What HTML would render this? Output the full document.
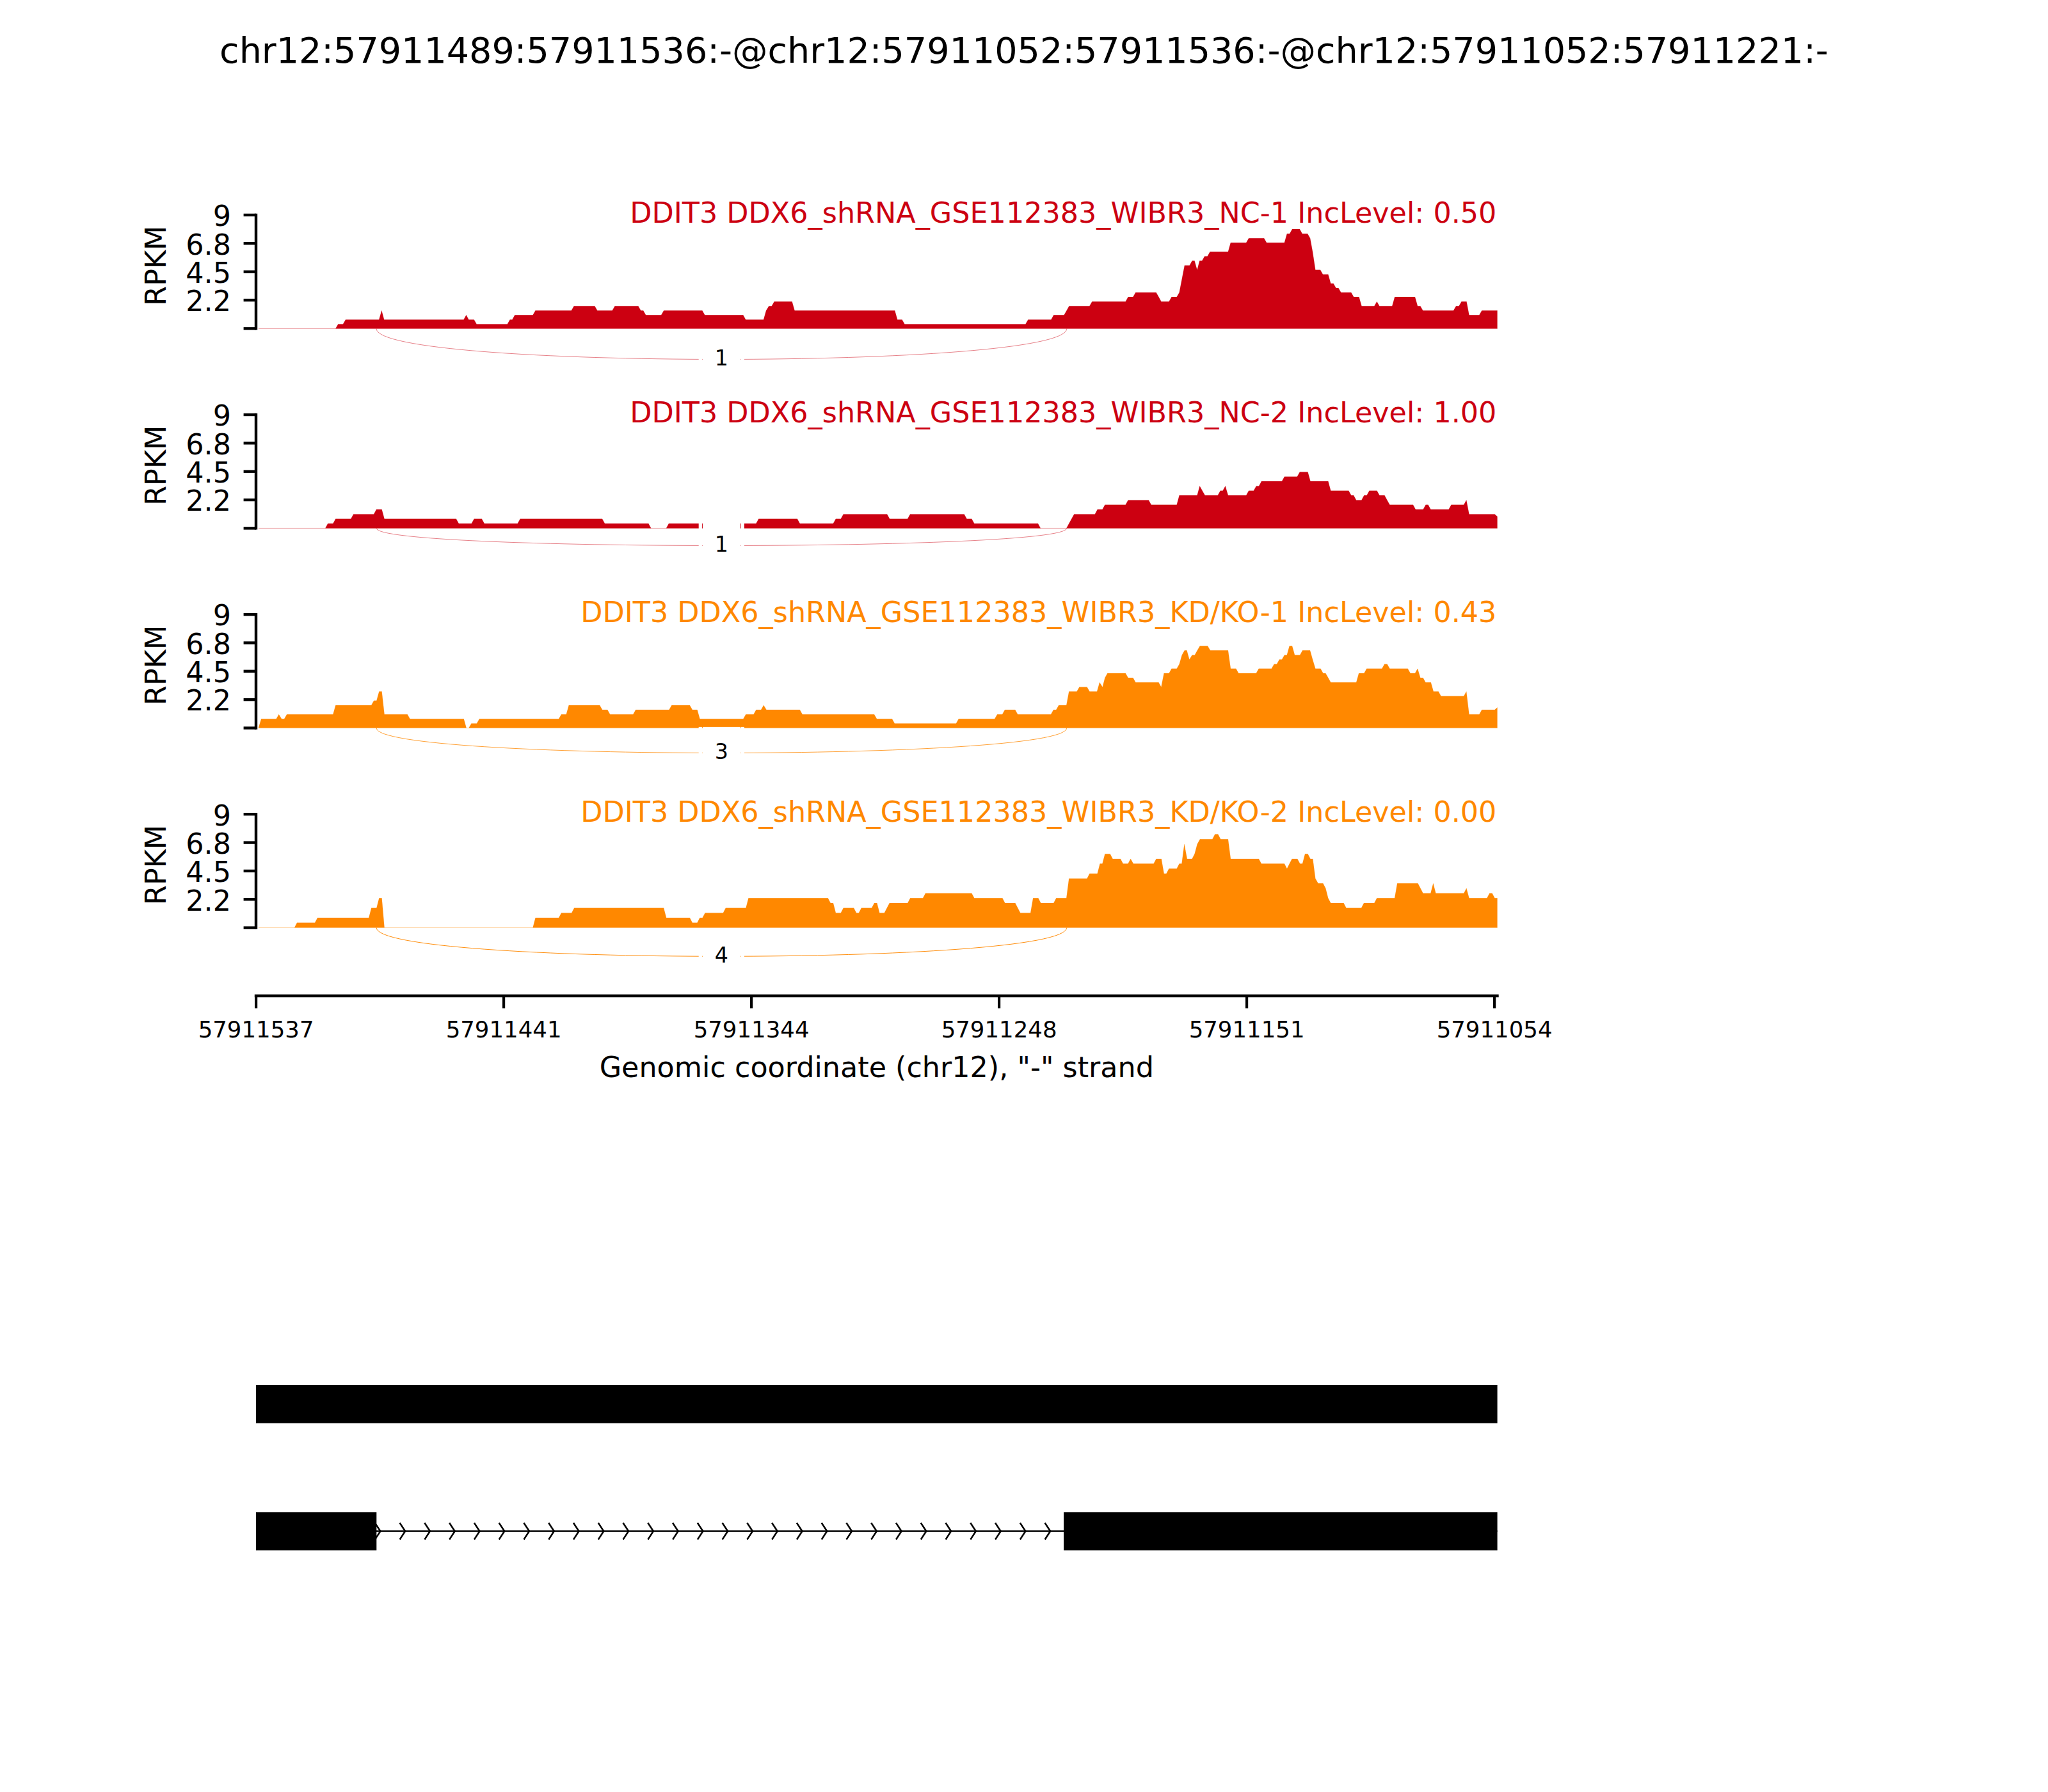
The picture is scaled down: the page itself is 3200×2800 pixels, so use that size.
<!DOCTYPE html>
<html lang="en"><head><meta charset="utf-8"><title>Sashimi plot chr12:57911489:57911536</title>
<style>html,body{margin:0;padding:0;background:#fff}body{width:3200px;height:2800px;overflow:hidden}svg{display:block}text{font-family:"DejaVu Sans", "Liberation Sans", sans-serif;fill:#000}</style></head><body>
<svg width="3200" height="2800" viewBox="0 0 3200 2800">
<rect width="3200" height="2800" fill="#fff"/>
<text x="1600" y="97.5" font-size="55.56" text-anchor="middle">chr12:57911489:57911536:-@chr12:57911052:57911536:-@chr12:57911052:57911221:-</text>
<g>
<path d="M403.9 513.55L403.9 513.55L524.28 513.55L528.3 506.48L535.98 506.48L540 499.42L592.28 499.42L596.3 485.29L600.2 499.42L724.48 499.42L728.5 492.35L732.4 499.42L740.68 499.42L744.7 506.48L792.78 506.48L796.8 499.42L800.38 499.42L804.4 492.35L832.58 492.35L836.6 485.29L892.78 485.29L896.8 478.22L929.28 478.22L933.3 485.29L956.68 485.29L960.7 478.22L997.28 478.22L1001.3 485.29L1005.08 485.29L1009.1 492.35L1033.18 492.35L1037.2 485.29L1097.28 485.29L1101.3 492.35L1161.18 492.35L1165.2 499.42L1193.08 499.42L1197.1 485.29L1201.4 478.22L1205.78 478.22L1209.8 471.15L1237.58 471.15L1241.6 485.29L1398.18 485.29L1402.2 499.42L1409.48 499.42L1413.5 506.48L1602.38 506.48L1606.4 499.42L1642.38 499.42L1646.4 492.35L1662.58 492.35L1666.6 485.29L1670.5 478.22L1702.38 478.22L1706.4 471.15L1758.68 471.15L1762.7 464.09L1770.38 464.09L1774.4 457.02L1806.48 457.02L1810.5 464.09L1814.4 471.15L1826.58 471.15L1830.6 464.09L1838.68 464.09L1842.7 457.02L1846.8 435.82L1850.9 414.63L1858.68 414.63L1862.7 407.56L1866.48 407.56L1870.5 421.69L1874.4 407.56L1878.18 407.56L1882.2 400.49L1886.58 400.49L1890.6 393.43L1918.88 393.43L1922.9 379.3L1947.18 379.3L1951.2 372.23L1975.08 372.23L1979.1 379.3L2006.88 379.3L2010.9 365.16L2015.08 365.16L2019.1 358.1L2030.78 358.1L2034.8 365.16L2043.08 365.16L2047.1 372.23L2051 393.43L2055.3 421.69L2062.98 421.69L2067 428.76L2075.28 428.76L2079.3 442.89L2083.48 442.89L2087.5 449.96L2091.28 449.96L2095.3 457.02L2111.18 457.02L2115.2 464.09L2123.48 464.09L2127.5 478.22L2147.38 478.22L2151.4 471.15L2155.3 478.22L2175.28 478.22L2179.3 464.09L2210.98 464.09L2215 478.22L2219.28 478.22L2223.3 485.29L2271.08 485.29L2275.1 478.22L2279.58 478.22L2283.6 471.15L2291.48 471.15L2295.5 492.35L2311.38 492.35L2315.4 485.29L2335.48 485.29L2339.5 485.29L2339.5 513.55Z" fill="#CC0011" stroke="#CC0011" stroke-width="0.2" stroke-linejoin="miter"/>
<path d="M588.2 513.55 C588.2 577.45 1666.7 577.45 1666.7 513.55" fill="none" stroke="#CC0011" stroke-width="0.5"/>
<rect x="1091.7" y="520.87" width="5.3" height="75.8" fill="#fff"/>
<rect x="1097.9" y="520.87" width="59" height="75.8" fill="#fff"/>
<rect x="1157.8" y="520.87" width="5.1" height="75.8" fill="#fff"/>
<text x="1127.3" y="571.47" font-size="33.33" text-anchor="middle">1</text>
<path d="M400 333.75 V515.55" stroke="#000" stroke-width="4.4" fill="none"/>
<path d="M380.6 335.95 H400" stroke="#000" stroke-width="4.4" fill="none"/>
<text x="361" y="353.25" font-size="44.44" text-anchor="end">9</text>
<path d="M380.6 380.3 H400" stroke="#000" stroke-width="4.4" fill="none"/>
<text x="361" y="397.6" font-size="44.44" text-anchor="end">6.8</text>
<path d="M380.6 424.65 H400" stroke="#000" stroke-width="4.4" fill="none"/>
<text x="361" y="441.95" font-size="44.44" text-anchor="end">4.5</text>
<path d="M380.6 469 H400" stroke="#000" stroke-width="4.4" fill="none"/>
<text x="361" y="486.3" font-size="44.44" text-anchor="end">2.2</text>
<path d="M380.6 513.35 H400" stroke="#000" stroke-width="4.4" fill="none"/>
<text transform="translate(258.6 415.15) rotate(-90)" font-size="44.44" text-anchor="middle">RPKM</text>
<text x="2338.4" y="347.95" font-size="44.46" text-anchor="end" style="fill:#CC0011">DDIT3 DDX6_shRNA_GSE112383_WIBR3_NC-1 IncLevel: 0.50</text>
</g>
<g>
<path d="M403.9 825.4L403.9 825.4L508.28 825.4L512.3 818.07L520.38 818.07L524.4 810.74L548.28 810.74L552.3 803.41L584.08 803.41L588.1 796.08L596.58 796.08L600.6 810.74L712.78 810.74L716.8 818.07L736.78 818.07L740.8 810.74L752.78 810.74L756.8 818.07L808.78 818.07L812.8 810.74L940.98 810.74L945 818.07L1013.28 818.07L1017.3 825.4L1040.98 825.4L1045 818.07L1181.38 818.07L1185.4 810.74L1245.78 810.74L1249.8 818.07L1301.88 818.07L1305.9 810.74L1313.78 810.74L1317.8 803.41L1386.08 803.41L1390.1 810.74L1418.08 810.74L1422.1 803.41L1506.58 803.41L1510.6 810.74L1518.28 810.74L1522.3 818.07L1621.88 818.07L1625.9 825.4L1666.28 825.4L1670.3 818.07L1674.3 810.74L1678.3 803.41L1710.78 803.41L1714.8 796.08L1722.48 796.08L1726.5 788.75L1758.68 788.75L1762.7 781.42L1794.78 781.42L1798.8 788.75L1838.68 788.75L1842.7 774.09L1870.58 774.09L1874.6 759.43L1878.6 766.76L1882.8 774.09L1902.78 774.09L1906.8 766.76L1910.58 766.76L1914.6 759.43L1918.9 774.09L1947.18 774.09L1951.2 766.76L1958.88 766.76L1962.9 759.43L1967.08 759.43L1971.1 752.1L2002.98 752.1L2007 744.77L2026.88 744.77L2030.9 737.44L2043.48 737.44L2047.5 752.1L2075.28 752.1L2079.3 766.76L2107.28 766.76L2111.3 774.09L2115.08 774.09L2119.1 781.42L2127.38 781.42L2131.4 774.09L2135.58 774.09L2139.6 766.76L2151.48 766.76L2155.5 774.09L2163.38 774.09L2167.4 781.42L2171.5 788.75L2207.88 788.75L2211.9 796.08L2223.68 796.08L2227.7 788.75L2231.48 788.75L2235.5 796.08L2263.58 796.08L2267.6 788.75L2287.18 788.75L2291.2 781.42L2295.5 803.41L2335.48 803.41L2339.5 807.07L2339.5 825.4Z" fill="#CC0011" stroke="#CC0011" stroke-width="0.2" stroke-linejoin="miter"/>
<path d="M588.2 825.4 C588.2 861.5 1666.7 861.5 1666.7 825.4" fill="none" stroke="#CC0011" stroke-width="0.5"/>
<rect x="1091.7" y="811.88" width="5.3" height="75.8" fill="#fff"/>
<rect x="1097.9" y="811.88" width="59" height="75.8" fill="#fff"/>
<rect x="1157.8" y="811.88" width="5.1" height="75.8" fill="#fff"/>
<text x="1127.3" y="862.48" font-size="33.33" text-anchor="middle">1</text>
<path d="M400 645.8 V827.6" stroke="#000" stroke-width="4.4" fill="none"/>
<path d="M380.6 648 H400" stroke="#000" stroke-width="4.4" fill="none"/>
<text x="361" y="665.3" font-size="44.44" text-anchor="end">9</text>
<path d="M380.6 692.35 H400" stroke="#000" stroke-width="4.4" fill="none"/>
<text x="361" y="709.65" font-size="44.44" text-anchor="end">6.8</text>
<path d="M380.6 736.7 H400" stroke="#000" stroke-width="4.4" fill="none"/>
<text x="361" y="754" font-size="44.44" text-anchor="end">4.5</text>
<path d="M380.6 781.05 H400" stroke="#000" stroke-width="4.4" fill="none"/>
<text x="361" y="798.35" font-size="44.44" text-anchor="end">2.2</text>
<path d="M380.6 825.4 H400" stroke="#000" stroke-width="4.4" fill="none"/>
<text transform="translate(258.6 727.2) rotate(-90)" font-size="44.44" text-anchor="middle">RPKM</text>
<text x="2338.4" y="660" font-size="44.46" text-anchor="end" style="fill:#CC0011">DDIT3 DDX6_shRNA_GSE112383_WIBR3_NC-2 IncLevel: 1.00</text>
</g>
<g>
<path d="M403.9 1137.55L403.9 1137.55L403.9 1137.55L408.2 1123.29L431.68 1123.29L435.7 1116.16L440 1123.29L444.18 1123.29L448.2 1116.16L520.38 1116.16L524.4 1101.9L580.18 1101.9L584.2 1094.77L588.38 1094.77L592.4 1080.51L596.58 1080.51L600.6 1116.16L636.58 1116.16L640.6 1123.29L724.68 1123.29L728.7 1137.55L732.48 1137.55L736.5 1130.42L744.98 1130.42L749 1123.29L873.08 1123.29L877.1 1116.16L884.78 1116.16L888.8 1101.9L937.08 1101.9L941.1 1109.03L949.18 1109.03L953.2 1116.16L989.28 1116.16L993.3 1109.03L1045.48 1109.03L1049.5 1101.9L1077.78 1101.9L1081.8 1109.03L1089.48 1109.03L1093.5 1123.29L1161.38 1123.29L1165.4 1116.16L1177.48 1116.16L1181.5 1109.03L1189.18 1109.03L1193.2 1101.9L1197.5 1109.03L1249.73 1109.03L1253.75 1116.16L1365.98 1116.16L1370 1123.29L1393.88 1123.29L1397.9 1130.42L1493.88 1130.42L1497.9 1123.29L1554.18 1123.29L1558.2 1116.16L1566.08 1116.16L1570.1 1109.03L1586.18 1109.03L1590.2 1116.16L1642.08 1116.16L1646.1 1109.03L1650.28 1109.03L1654.3 1101.9L1666.28 1101.9L1670.3 1080.51L1682.48 1080.51L1686.5 1073.38L1698.48 1073.38L1702.5 1080.51L1714.08 1080.51L1718.1 1066.25L1722.7 1073.38L1726.5 1059.12L1730.4 1051.99L1758.68 1051.99L1762.7 1059.12L1770.38 1059.12L1774.4 1066.25L1810.38 1066.25L1814.4 1073.38L1818.7 1051.99L1826.58 1051.99L1830.6 1044.86L1838.68 1044.86L1842.7 1037.73L1846.8 1023.47L1850.9 1016.34L1854.38 1016.34L1858.4 1030.6L1862.7 1023.47L1866.78 1023.47L1870.8 1016.34L1874.9 1009.21L1886.98 1009.21L1891 1016.34L1918.88 1016.34L1922.9 1044.86L1931.28 1044.86L1935.3 1051.99L1962.78 1051.99L1966.8 1044.86L1986.78 1044.86L1990.8 1037.73L1994.98 1037.73L1999 1030.6L2002.98 1030.6L2007 1023.47L2010.78 1023.47L2014.8 1009.21L2018.98 1009.21L2023 1023.47L2031.18 1023.47L2035.2 1016.34L2046.98 1016.34L2051 1030.6L2055.3 1044.86L2063.38 1044.86L2067.4 1051.99L2071.28 1051.99L2075.3 1059.12L2079.3 1066.25L2119.18 1066.25L2123.2 1051.99L2131.38 1051.99L2135.4 1044.86L2159.28 1044.86L2163.3 1037.73L2167.48 1037.73L2171.5 1044.86L2199.68 1044.86L2203.7 1051.99L2210.98 1051.99L2215 1044.86L2219.3 1059.12L2223.48 1059.12L2227.5 1066.25L2235.78 1066.25L2239.8 1080.51L2247.58 1080.51L2251.6 1087.64L2287.18 1087.64L2291.2 1080.51L2295.5 1116.16L2311.38 1116.16L2315.4 1109.03L2331.48 1109.03L2335.5 1109.03L2339.5 1105.46L2339.5 1137.55Z" fill="#FF8800" stroke="#FF8800" stroke-width="0.2" stroke-linejoin="miter"/>
<path d="M588.2 1137.55 C588.2 1189.45 1666.7 1189.45 1666.7 1137.55" fill="none" stroke="#FF8800" stroke-width="0.8"/>
<rect x="1091.7" y="1135.87" width="5.3" height="75.8" fill="#fff"/>
<rect x="1097.9" y="1135.87" width="59" height="75.8" fill="#fff"/>
<rect x="1157.8" y="1135.87" width="5.1" height="75.8" fill="#fff"/>
<text x="1127.3" y="1186.47" font-size="33.33" text-anchor="middle">3</text>
<path d="M400 957.9 V1139.7" stroke="#000" stroke-width="4.4" fill="none"/>
<path d="M380.6 960.1 H400" stroke="#000" stroke-width="4.4" fill="none"/>
<text x="361" y="977.4" font-size="44.44" text-anchor="end">9</text>
<path d="M380.6 1004.45 H400" stroke="#000" stroke-width="4.4" fill="none"/>
<text x="361" y="1021.75" font-size="44.44" text-anchor="end">6.8</text>
<path d="M380.6 1048.8 H400" stroke="#000" stroke-width="4.4" fill="none"/>
<text x="361" y="1066.1" font-size="44.44" text-anchor="end">4.5</text>
<path d="M380.6 1093.15 H400" stroke="#000" stroke-width="4.4" fill="none"/>
<text x="361" y="1110.45" font-size="44.44" text-anchor="end">2.2</text>
<path d="M380.6 1137.5 H400" stroke="#000" stroke-width="4.4" fill="none"/>
<text transform="translate(258.6 1039.3) rotate(-90)" font-size="44.44" text-anchor="middle">RPKM</text>
<text x="2338.4" y="972.1" font-size="44.46" text-anchor="end" style="fill:#FF8800">DDIT3 DDX6_shRNA_GSE112383_WIBR3_KD/KO-1 IncLevel: 0.43</text>
</g>
<g>
<path d="M403.9 1449.45L403.9 1449.45L460.08 1449.45L464.1 1441.77L492.08 1441.77L496.1 1434.09L576.28 1434.09L580.3 1418.73L588.38 1418.73L592.4 1403.37L596.58 1403.37L600.6 1449.45L832.58 1449.45L836.6 1434.09L873.08 1434.09L877.1 1426.41L893.18 1426.41L897.2 1418.73L1037.08 1418.73L1041.1 1434.09L1077.78 1434.09L1081.8 1441.77L1089.48 1441.77L1093.5 1434.09L1097.68 1434.09L1101.7 1426.41L1129.88 1426.41L1133.9 1418.73L1165.48 1418.73L1169.5 1403.37L1293.68 1403.37L1297.7 1411.05L1301.88 1411.05L1305.9 1426.41L1313.78 1426.41L1317.8 1418.73L1334.08 1418.73L1338.1 1426.41L1341.88 1426.41L1345.9 1418.73L1362.08 1418.73L1366.1 1411.05L1370.28 1411.05L1374.3 1426.41L1381.78 1426.41L1385.8 1418.73L1389.9 1411.05L1418.28 1411.05L1422.3 1403.37L1442.08 1403.37L1446.1 1395.69L1518.28 1395.69L1522.3 1403.37L1566.28 1403.37L1570.3 1411.05L1586.28 1411.05L1590.3 1418.73L1594.3 1426.41L1610.18 1426.41L1614.2 1403.37L1622.28 1403.37L1626.3 1411.05L1646.33 1411.05L1650.35 1403.37L1666.28 1403.37L1670.3 1372.65L1698.48 1372.65L1702.5 1364.97L1714.68 1364.97L1718.7 1349.61L1722.48 1349.61L1726.5 1334.25L1734.58 1334.25L1738.6 1341.93L1750.78 1341.93L1754.8 1349.61L1762.58 1349.61L1766.6 1341.93L1770.9 1349.61L1802.58 1349.61L1806.6 1341.93L1814.68 1341.93L1818.7 1364.97L1822.48 1364.97L1826.5 1357.29L1838.68 1357.29L1842.7 1349.61L1846.48 1349.61L1850.5 1318.89L1854.8 1341.93L1862.58 1341.93L1866.6 1334.25L1870.7 1318.89L1875 1311.21L1894.38 1311.21L1898.4 1303.53L1903.18 1303.53L1907.2 1311.21L1918.88 1311.21L1922.9 1341.93L1966.88 1341.93L1970.9 1349.61L2006.88 1349.61L2010.9 1357.29L2014.8 1349.61L2018.75 1341.93L2027.23 1341.93L2031.25 1349.61L2035.08 1349.61L2039.1 1334.25L2043.48 1334.25L2047.5 1341.93L2051.28 1341.93L2055.3 1372.65L2059.6 1380.33L2067.28 1380.33L2071.3 1388.01L2075.2 1403.37L2079.3 1411.05L2099.48 1411.05L2103.5 1418.73L2127.08 1418.73L2131.1 1411.05L2147.38 1411.05L2151.4 1403.37L2179.18 1403.37L2183.2 1380.33L2215.48 1380.33L2219.5 1388.01L2223.5 1395.69L2235.38 1395.69L2239.4 1380.33L2243.4 1395.69L2287.28 1395.69L2291.3 1388.01L2295.5 1403.37L2323.38 1403.37L2327.4 1395.69L2331.48 1395.69L2335.5 1403.37L2339.5 1403.37L2339.5 1449.45Z" fill="#FF8800" stroke="#FF8800" stroke-width="0.2" stroke-linejoin="miter"/>
<path d="M588.2 1449.45 C588.2 1509.25 1666.7 1509.25 1666.7 1449.45" fill="none" stroke="#FF8800" stroke-width="0.95"/>
<rect x="1091.7" y="1453.7" width="5.3" height="75.8" fill="#fff"/>
<rect x="1097.9" y="1453.7" width="59" height="75.8" fill="#fff"/>
<rect x="1157.8" y="1453.7" width="5.1" height="75.8" fill="#fff"/>
<text x="1127.3" y="1504.3" font-size="33.33" text-anchor="middle">4</text>
<path d="M400 1270 V1451.8" stroke="#000" stroke-width="4.4" fill="none"/>
<path d="M380.6 1272.2 H400" stroke="#000" stroke-width="4.4" fill="none"/>
<text x="361" y="1289.5" font-size="44.44" text-anchor="end">9</text>
<path d="M380.6 1316.55 H400" stroke="#000" stroke-width="4.4" fill="none"/>
<text x="361" y="1333.85" font-size="44.44" text-anchor="end">6.8</text>
<path d="M380.6 1360.9 H400" stroke="#000" stroke-width="4.4" fill="none"/>
<text x="361" y="1378.2" font-size="44.44" text-anchor="end">4.5</text>
<path d="M380.6 1405.25 H400" stroke="#000" stroke-width="4.4" fill="none"/>
<text x="361" y="1422.55" font-size="44.44" text-anchor="end">2.2</text>
<path d="M380.6 1449.6 H400" stroke="#000" stroke-width="4.4" fill="none"/>
<text transform="translate(258.6 1351.4) rotate(-90)" font-size="44.44" text-anchor="middle">RPKM</text>
<text x="2338.4" y="1284.2" font-size="44.46" text-anchor="end" style="fill:#FF8800">DDIT3 DDX6_shRNA_GSE112383_WIBR3_KD/KO-2 IncLevel: 0.00</text>
</g>
<path d="M397.8 1556 H2341.7" stroke="#000" stroke-width="4.4" fill="none"/>
<path d="M400.1 1556 V1575.4" stroke="#000" stroke-width="4.2" fill="none"/>
<text x="400.1" y="1620.6" font-size="35.56" text-anchor="middle">57911537</text>
<path d="M787.1 1556 V1575.4" stroke="#000" stroke-width="4.2" fill="none"/>
<text x="787.1" y="1620.6" font-size="35.56" text-anchor="middle">57911441</text>
<path d="M1174.1 1556 V1575.4" stroke="#000" stroke-width="4.2" fill="none"/>
<text x="1174.1" y="1620.6" font-size="35.56" text-anchor="middle">57911344</text>
<path d="M1561.1 1556 V1575.4" stroke="#000" stroke-width="4.2" fill="none"/>
<text x="1561.1" y="1620.6" font-size="35.56" text-anchor="middle">57911248</text>
<path d="M1948.1 1556 V1575.4" stroke="#000" stroke-width="4.2" fill="none"/>
<text x="1948.1" y="1620.6" font-size="35.56" text-anchor="middle">57911151</text>
<path d="M2335.1 1556 V1575.4" stroke="#000" stroke-width="4.2" fill="none"/>
<text x="2335.1" y="1620.6" font-size="35.56" text-anchor="middle">57911054</text>
<text x="1369.8" y="1683.3" font-size="44.44" text-anchor="middle">Genomic coordinate (chr12), &quot;-&quot; strand</text>
<rect x="400" y="2164" width="1939.6" height="59.8" fill="#000"/>
<path d="M400 2392.5 H2339.5" stroke="#000" stroke-width="2.3" fill="none"/>
<path d="M586.6 2380.6L594.35 2392.5L586.6 2404.4M625.37 2380.6L633.12 2392.5L625.37 2404.4M664.14 2380.6L671.89 2392.5L664.14 2404.4M702.91 2380.6L710.66 2392.5L702.91 2404.4M741.68 2380.6L749.43 2392.5L741.68 2404.4M780.45 2380.6L788.2 2392.5L780.45 2404.4M819.22 2380.6L826.97 2392.5L819.22 2404.4M857.99 2380.6L865.74 2392.5L857.99 2404.4M896.76 2380.6L904.51 2392.5L896.76 2404.4M935.53 2380.6L943.28 2392.5L935.53 2404.4M974.3 2380.6L982.05 2392.5L974.3 2404.4M1013.07 2380.6L1020.82 2392.5L1013.07 2404.4M1051.84 2380.6L1059.59 2392.5L1051.84 2404.4M1090.61 2380.6L1098.36 2392.5L1090.61 2404.4M1129.38 2380.6L1137.13 2392.5L1129.38 2404.4M1168.15 2380.6L1175.9 2392.5L1168.15 2404.4M1206.92 2380.6L1214.67 2392.5L1206.92 2404.4M1245.69 2380.6L1253.44 2392.5L1245.69 2404.4M1284.46 2380.6L1292.21 2392.5L1284.46 2404.4M1323.23 2380.6L1330.98 2392.5L1323.23 2404.4M1362 2380.6L1369.75 2392.5L1362 2404.4M1400.77 2380.6L1408.52 2392.5L1400.77 2404.4M1439.54 2380.6L1447.29 2392.5L1439.54 2404.4M1478.31 2380.6L1486.06 2392.5L1478.31 2404.4M1517.08 2380.6L1524.83 2392.5L1517.08 2404.4M1555.85 2380.6L1563.6 2392.5L1555.85 2404.4M1594.62 2380.6L1602.37 2392.5L1594.62 2404.4M1633.39 2380.6L1641.14 2392.5L1633.39 2404.4" stroke="#000" stroke-width="2.6" fill="none" stroke-linecap="square" stroke-linejoin="miter"/>
<rect x="400" y="2362.9" width="188.3" height="59.5" fill="#000"/>
<rect x="1662.1" y="2362.9" width="677.5" height="59.5" fill="#000"/>
</svg></body></html>
